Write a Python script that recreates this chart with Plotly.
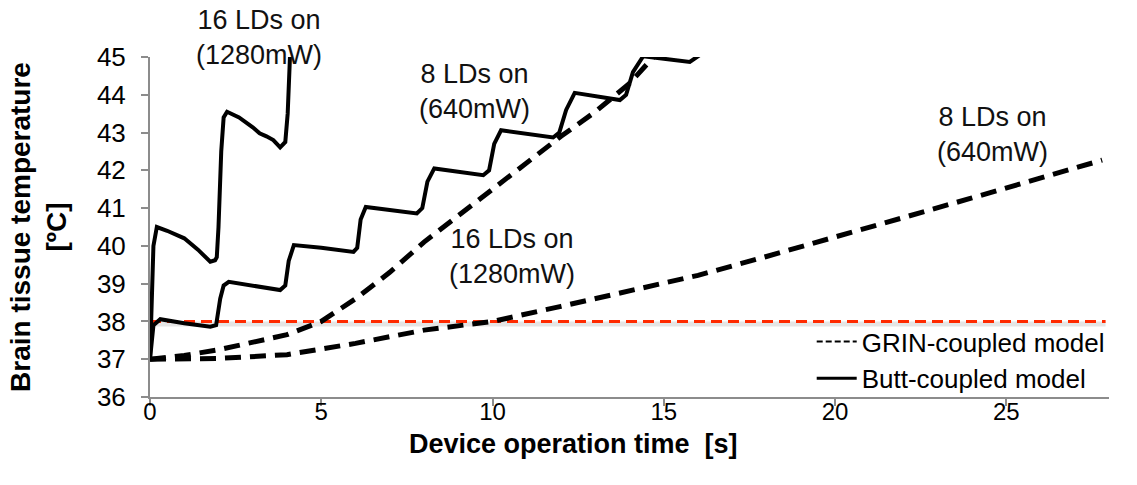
import plotly.graph_objects as go

# ---- data ----
grin16_x = [0, 1, 2, 3, 4, 5, 6, 7, 8, 9, 10, 11, 12, 13, 14, 14.7]
grin16_y = [37.0, 37.1, 37.25, 37.45, 37.65, 38.0, 38.6, 39.3, 40.1, 40.8, 41.5, 42.2, 42.9, 43.55, 44.3, 45.0]

grin8_x = [0, 2, 4, 6, 8, 10, 12, 14, 16, 18, 20, 22, 24, 26, 27.8]
grin8_y = [37.0, 37.02, 37.12, 37.42, 37.77, 38.0, 38.4, 38.8, 39.22, 39.72, 40.22, 40.75, 41.27, 41.78, 42.27]

butt16_x = [0, 0.05, 0.1, 0.2, 0.5, 1.0, 1.4, 1.76, 1.9, 1.95, 2.0, 2.08, 2.15, 2.25, 2.6, 3.0, 3.2, 3.4, 3.6, 3.8, 3.95, 4.02, 4.05, 4.1]
butt16_y = [37.0, 38.5, 40.0, 40.5, 40.4, 40.2, 39.9, 39.58, 39.62, 39.7, 40.5, 42.5, 43.4, 43.55, 43.4, 43.14, 42.98, 42.9, 42.8, 42.61, 42.75, 43.5, 44.5, 45.3]

butt8_x = [0, 0.1, 0.3, 1.0, 1.76, 1.93, 2.05, 2.15, 2.3, 3.0, 3.8, 3.95, 4.05, 4.2, 5.0, 5.94,
           6.05, 6.15, 6.3, 7.0, 7.79, 7.95, 8.1, 8.3, 9.0, 9.73, 9.9, 10.05, 10.25, 11.0, 11.77,
           11.95, 12.15, 12.4, 13.0, 13.72, 13.9, 14.1, 14.4, 15.0, 15.76, 16.05]
butt8_y = [37.0, 37.9, 38.06, 37.95, 37.86, 37.9, 38.6, 38.95, 39.05, 38.95, 38.83, 38.95, 39.6, 40.02, 39.95, 39.84,
           39.95, 40.7, 41.03, 40.95, 40.86, 41.0, 41.7, 42.05, 41.97, 41.87, 42.0, 42.7, 43.06, 42.97, 42.87,
           43.0, 43.6, 44.05, 43.97, 43.86, 44.0, 44.6, 45.02, 44.95, 44.87, 45.05]

limit_x = [0, 27.9]
limit_y = [38, 38]

x_ticks = [0, 5, 10, 15, 20, 25]
y_ticks = [36, 37, 38, 39, 40, 41, 42, 43, 44, 45]

# (text, x in data units, y in paper units of the plot area)
labels = [
    ("16 LDs on<br>(1280mW)", 3.17, 1.056),
    ("8 LDs on<br>(640mW)", 9.47, 0.898),
    ("16 LDs on<br>(1280mW)", 10.58, 0.412),
    ("8 LDs on<br>(640mW)", 24.61, 0.772),
]

FONT = "Liberation Sans, Arial, sans-serif"

fig = go.Figure()

# limit line shadow + red dashed line
fig.add_trace(go.Scatter(x=limit_x, y=[v - 0.07 for v in limit_y], mode="lines",
                         line=dict(color="rgba(0,0,0,0.10)", width=5),
                         showlegend=False, hoverinfo="skip"))
fig.add_trace(go.Scatter(x=limit_x, y=limit_y, mode="lines",
                         line=dict(color="#FF2A00", width=3, dash="11px,6px"),
                         showlegend=False))

dash_style = dict(color="black", width=5, dash="16px,9px")
solid_style = dict(color="black", width=4)

fig.add_trace(go.Scatter(x=grin16_x, y=grin16_y, mode="lines", line=dash_style, showlegend=False))
fig.add_trace(go.Scatter(x=grin8_x, y=grin8_y, mode="lines", line=dash_style, showlegend=False))
fig.add_trace(go.Scatter(x=butt16_x, y=butt16_y, mode="lines", line=solid_style, showlegend=False))
fig.add_trace(go.Scatter(x=butt8_x, y=butt8_y, mode="lines", line=solid_style, showlegend=False))

# legend entries
fig.add_trace(go.Scatter(x=[None], y=[None], mode="lines", name="GRIN-coupled model",
                         line=dict(color="black", width=2, dash="6px,3px"), legendgroup="a"))
fig.add_trace(go.Scatter(x=[None], y=[None], mode="lines", name="Butt-coupled model",
                         line=dict(color="black", width=3), legendgroup="b"))

for text, x, y in labels:
    fig.add_annotation(x=x, y=y, text=text, showarrow=False, xref="x", yref="paper",
                       xanchor="center", yanchor="middle",
                       font=dict(family=FONT, size=27, color="#111"), align="center")

# x-axis title (offset left of the plot centre as in the original)
fig.add_annotation(x=0.442, y=-0.138, xref="paper", yref="paper", yanchor="middle",
                   xanchor="center",
                   text="<b>Device operation time  [s]</b>", showarrow=False,
                   font=dict(family=FONT, size=27, color="black"))

fig.update_layout(
    width=1137, height=485,
    margin=dict(l=150, r=28, t=57, b=88),
    plot_bgcolor="white", paper_bgcolor="white",
    font=dict(family=FONT, color="black"),
    showlegend=True,
    legend=dict(x=0.69, y=0.232, xanchor="left", yanchor="top",
                bgcolor="rgba(0,0,0,0)", font=dict(size=26, family=FONT),
                tracegroupgap=0, itemwidth=40),
    xaxis=dict(range=[0, 28], tickvals=x_ticks, ticks="outside", ticklen=7, tickwidth=2,
               tickcolor="#8c8c8c", showline=True, linecolor="#8c8c8c", linewidth=2,
               showgrid=False, zeroline=False, tickfont=dict(size=24, family=FONT),
               ticklabelstandoff=-15),
    yaxis=dict(range=[36, 45], tickvals=y_ticks, ticks="outside", ticklen=7, tickwidth=2,
               tickcolor="#8c8c8c", showline=True, linecolor="#8c8c8c", linewidth=2,
               showgrid=False, zeroline=False, tickfont=dict(size=26, family=FONT),
               ticklabelstandoff=10,
               title=dict(text="<b>Brain tissue temperature<br>[ºC]</b>", font=dict(size=28, family=FONT),
                          standoff=22)),
)

fig.write_html("out.html")
